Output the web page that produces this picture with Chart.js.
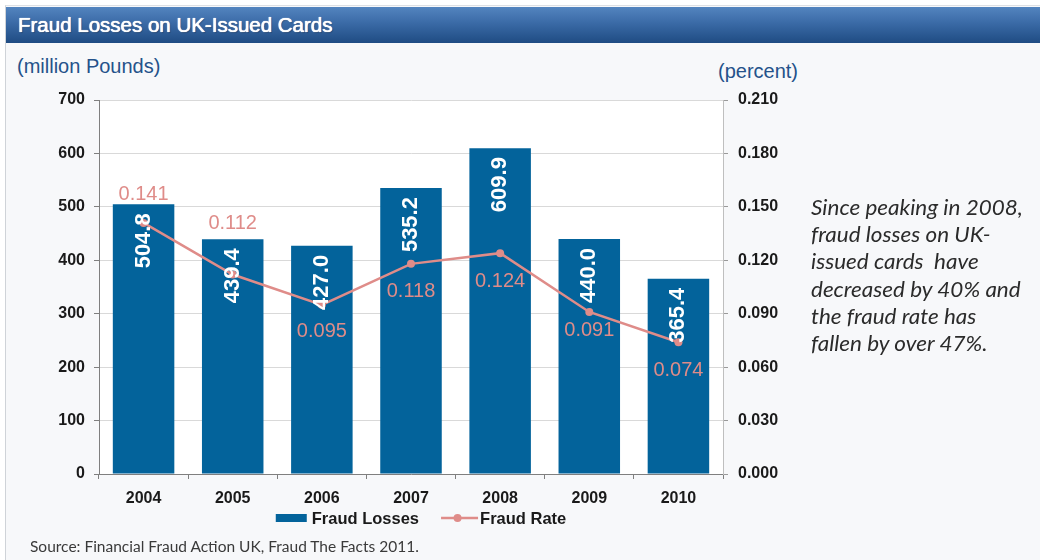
<!DOCTYPE html>
<html>
<head>
<meta charset="utf-8">
<script src="https://cdn.jsdelivr.net/npm/chart.js@4.4.1/dist/chart.umd.min.js"></script>
<style>
  html, body { margin: 0; padding: 0; background: #ffffff; }
  body { width: 1040px; height: 560px; position: relative; overflow: hidden; font-family: "Liberation Sans", Arial, sans-serif; }
  #frame { position: absolute; left: 5px; top: 5px; width: 1035px; height: 555px; background: #F7F8FA; border-left: 1px solid #CFD3D8; border-top: 1px solid #DDE0E4; box-sizing: border-box; }
  #titlebar { position: absolute; left: 6px; top: 7px; width: 1034px; height: 36px; background: linear-gradient(to bottom, #5384BF 0%, #3A6AA6 45%, #1F4C83 100%); }
  #title { position: absolute; left: 18px; top: 7px; height: 36px; line-height: 36px; color: #ffffff; font-size: 20.5px; font-family: "Liberation Sans", Arial, sans-serif; text-shadow: 0 0 0.7px #ffffff, 0 0 0.7px #ffffff, 1px 1px 1px rgba(0,0,0,0.25); }
  .axt { position: absolute; color: #25528A; font-size: 20px; font-family: "Liberation Sans", Arial, sans-serif; white-space: nowrap; }
  #note { position: absolute; left: 811px; top: 193px; font-family: Lato, "Open Sans", sans-serif; font-style: italic; font-size: 21px; line-height: 27.2px; color: #2B2B2B; white-space: nowrap; transform: scaleX(1.07); transform-origin: left top; }
  #source { position: absolute; left: 30px; top: 537px; font-family: Lato, "Open Sans", sans-serif; font-size: 15.5px; color: #3A3A3A; white-space: nowrap; }
  canvas { position: absolute; left: 0; top: 0; }
</style>
</head>
<body>
<div id="frame"></div>
<div id="titlebar"></div>
<div id="title">Fraud Losses on UK-Issued Cards</div>
<div class="axt" style="left:17px; top:55px;">(million Pounds)</div>
<div class="axt" style="left:718px; top:60px;">(percent)</div>
<canvas id="c" width="1040" height="560"></canvas>
<div id="note">Since peaking in 2008,<br>fraud losses on UK-<br>issued cards&nbsp; have<br>decreased by 40% and<br>the fraud rate has<br>fallen by over 47%.</div>
<div id="source">Source: Financial Fraud Action UK, Fraud The Facts 2011.</div>
<script>
// ---- data ----
const categories = ['2004', '2005', '2006', '2007', '2008', '2009', '2010'];
const fraudLosses = [504.8, 439.4, 427.0, 535.2, 609.9, 440.0, 365.4];
const fraudRate = [0.141, 0.112, 0.095, 0.118, 0.124, 0.091, 0.074];
const seriesNames = ['Fraud Losses', 'Fraud Rate'];
const leftTicks = [0, 100, 200, 300, 400, 500, 600, 700];
const rightTicks = [0, 0.03, 0.06, 0.09, 0.12, 0.15, 0.18, 0.21];

// ---- styling ----
const BAR = '#03639B';
const PINK = '#DF8C89';
const rateLabelOffsets = [-28, -51, 27, 28, 28, 19, 28];
const FONT = '"Liberation Sans", Arial, sans-serif';

const plotBackground = {
  id: 'plotBackground',
  beforeDraw(chart) {
    const { ctx, chartArea: a } = chart;
    ctx.save();
    ctx.fillStyle = '#ffffff';
    ctx.fillRect(a.left, a.top, a.right - a.left, a.bottom - a.top);
    ctx.restore();
  }
};

const valueLabels = {
  id: 'valueLabels',
  afterDatasetsDraw(chart) {
    const ctx = chart.ctx;
    ctx.save();
    const barMeta = chart.getDatasetMeta(0);
    ctx.font = 'bold 22px ' + FONT;
    ctx.fillStyle = '#ffffff';
    ctx.textAlign = 'right';
    ctx.textBaseline = 'middle';
    barMeta.data.forEach((bar, i) => {
      ctx.save();
      ctx.translate(bar.x, bar.y + 9);
      ctx.rotate(-Math.PI / 2);
      ctx.fillText(fraudLosses[i].toFixed(1), 0, 0);
      ctx.restore();
    });
    const lineMeta = chart.getDatasetMeta(1);
    ctx.font = '20px ' + FONT;
    ctx.fillStyle = PINK;
    ctx.textAlign = 'center';
    lineMeta.data.forEach((pt, i) => {
      ctx.fillText(fraudRate[i].toFixed(3), pt.x, pt.y + rateLabelOffsets[i]);
    });
    ctx.restore();
  }
};

// legend drawn from the datasets (labels and colours)
const bottomLegend = {
  id: 'bottomLegend',
  afterDraw(chart) {
    const ctx = chart.ctx;
    const ds = chart.data.datasets;
    const cx = 421, cy = 518;
    const boxW = 31, boxH = 8, lineW = 37, gapText = 5, gapItem = 22;
    ctx.save();
    ctx.font = 'bold 16.5px ' + FONT;
    ctx.textBaseline = 'middle';
    ctx.textAlign = 'left';
    const w0 = ctx.measureText(ds[0].label).width;
    const w1 = ctx.measureText(ds[1].label).width;
    const total = boxW + gapText + w0 + gapItem + lineW + 2 + w1;
    let x = cx - total / 2;
    ctx.fillStyle = ds[0].backgroundColor;
    ctx.fillRect(x, cy - boxH / 2, boxW, boxH);
    x += boxW + gapText;
    ctx.fillStyle = '#1A1A1A';
    ctx.fillText(ds[0].label, x, cy + 1);
    x += w0 + gapItem;
    ctx.strokeStyle = ds[1].borderColor;
    ctx.lineWidth = 2.5;
    ctx.beginPath(); ctx.moveTo(x, cy); ctx.lineTo(x + lineW, cy); ctx.stroke();
    ctx.fillStyle = ds[1].borderColor;
    ctx.beginPath(); ctx.arc(x + lineW / 2 - 2, cy, 4, 0, Math.PI * 2); ctx.fill();
    x += lineW + 2;
    ctx.fillStyle = '#1A1A1A';
    ctx.fillText(ds[1].label, x, cy + 1);
    ctx.restore();
  }
};

const tickFont = { family: FONT, size: 16, weight: 'bold' };

new Chart(document.getElementById('c'), {
  data: {
    labels: categories,
    datasets: [
      {
        type: 'bar',
        label: seriesNames[0],
        data: fraudLosses,
        backgroundColor: BAR,
        borderWidth: 0,
        barPercentage: 0.69,
        categoryPercentage: 1.0,
        yAxisID: 'y',
        order: 2
      },
      {
        type: 'line',
        label: seriesNames[1],
        data: fraudRate,
        borderColor: PINK,
        backgroundColor: PINK,
        borderWidth: 2.5,
        pointRadius: 4,
        pointHoverRadius: 4,
        pointBackgroundColor: PINK,
        pointBorderWidth: 0,
        tension: 0,
        yAxisID: 'y1',
        order: 1
      }
    ]
  },
  options: {
    responsive: false,
    animation: false,
    devicePixelRatio: 1,
    layout: { padding: { left: 0, right: 198, top: 100, bottom: 46 } },
    plugins: {
      tooltip: { enabled: false },
      legend: { display: false }
    },
    scales: {
      x: {
        offset: true,
        grid: { display: true, drawOnChartArea: false, drawTicks: true, tickLength: 5, tickColor: '#7F7F7F', offset: true },
        border: { display: true, color: '#7F7F7F', width: 1 },
        ticks: { color: '#1A1A1A', font: tickFont, padding: 10, maxRotation: 0 },
        afterFit(s) { s.height = 40; }
      },
      y: {
        position: 'left',
        min: 0, max: 700,
        afterBuildTicks(s) { s.ticks = leftTicks.map(v => ({ value: v })); },
        grid: { color: '#D9D9D9', lineWidth: 1, tickLength: 5, tickColor: '#7F7F7F' },
        border: { display: true, color: '#7F7F7F', width: 1 },
        ticks: { color: '#1A1A1A', font: tickFont, padding: 9, callback: v => String(v) },
        afterFit(s) { s.width = 99; }
      },
      y1: {
        position: 'right',
        min: 0, max: 0.21,
        afterBuildTicks(s) { s.ticks = rightTicks.map(v => ({ value: v })); },
        grid: { drawOnChartArea: false, tickLength: 5, tickColor: '#9A9A9A' },
        border: { display: true, color: '#BFBFBF', width: 1 },
        ticks: { color: '#1A1A1A', font: tickFont, padding: 10, callback: v => Number(v).toFixed(3) },
        afterFit(s) { s.width = 119; }
      }
    }
  },
  plugins: [plotBackground, valueLabels, bottomLegend]
});
</script>
</body>
</html>
